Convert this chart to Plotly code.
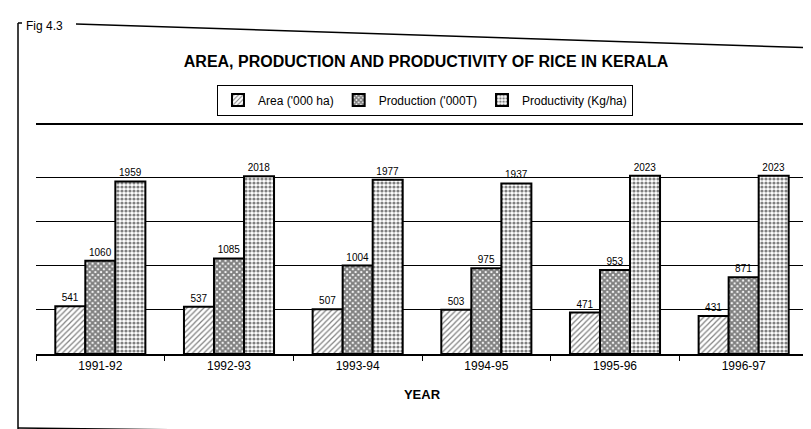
import plotly.graph_objects as go

years = ["1991-92", "1992-93", "1993-94", "1994-95", "1995-96", "1996-97"]
area = [541, 537, 507, 503, 471, 431]
production = [1060, 1085, 1004, 975, 953, 871]
productivity = [1959, 2018, 1977, 1937, 2023, 2023]
grid_values = [500, 1000, 1500, 2000]

series_names = ["Area ('000 ha)", "Production ('000T)", "Productivity (Kg/ha)"]

FONT = "Liberation Sans Narrow, Arial Narrow, Liberation Sans, Arial, sans-serif"

# pixel layout helpers
L, R, T, B = 28, 11, 117, 83
W = 811 - L - R
H = 429 - T - B


def px(x):
    return (x - L) / W


def py(y):
    return (429 - B - y) / H


fig = go.Figure()

styles = [
    dict(shape="/", size=4, solidity=0.3),
    dict(shape="x", size=4, solidity=0.75),
    dict(shape=".", size=4, solidity=0.5),
]

for name, vals, st in zip(series_names, [area, production, productivity], styles):
    fig.add_trace(go.Bar(
        name=name, x=years, y=vals,
        text=[str(v) for v in vals], textposition="outside",
        textfont=dict(family=FONT, size=10, color="black"),
        cliponaxis=False,
        marker=dict(color="white",
                    line=dict(color="black", width=2),
                    pattern=dict(fgcolor="black", bgcolor="white", **st)),
    ))

shapes = [
    # left frame
    dict(type="line", xref="paper", yref="paper", x0=px(10), x1=px(10), y0=py(15), y1=py(421),
         line=dict(color="black", width=1.5)),
    # bracket top
    dict(type="line", xref="paper", yref="paper", x0=px(10), x1=px(14), y0=py(15), y1=py(15),
         line=dict(color="black", width=1.5)),
    # top frame (slightly skewed as in scan)
    dict(type="line", xref="paper", yref="paper", x0=px(68), x1=px(811), y0=py(16), y1=py(40),
         line=dict(color="black", width=1.5)),
    # bottom frame partial
    dict(type="line", xref="paper", yref="paper", x0=px(10), x1=px(270), y0=py(420), y1=py(423),
         line=dict(color="black", width=1.5)),
]

fig.update_layout(
    width=811, height=429,
    margin=dict(l=L, r=R, t=T, b=B),
    paper_bgcolor="white", plot_bgcolor="white",
    font=dict(family=FONT, color="black"),
    barmode="group", bargap=0.3, bargroupgap=0,
    title=dict(text="<b>AREA, PRODUCTION AND PRODUCTIVITY OF RICE IN KERALA</b>",
               x=418 / 811, xanchor="center", y=1 - 53 / 429, yanchor="middle",
               font=dict(family=FONT, size=16, color="black")),
    legend=dict(orientation="h", x=px(417), xanchor="center", y=py(92), yanchor="middle",
                bordercolor="black", borderwidth=1, bgcolor="white",
                font=dict(family=FONT, size=12, color="black"),
                itemwidth=30, tracegroupgap=0),
    xaxis=dict(type="category", showline=True, linecolor="black", linewidth=1.5,
               mirror=True,
               ticks="outside", tickson="boundaries", ticklen=5, tickcolor="black",
               tickfont=dict(family=FONT, size=12, color="black"),
               title=dict(text="<b>YEAR</b>", standoff=18,
                          font=dict(family=FONT, size=13, color="black"))),
    yaxis=dict(range=[0, 2600], tickmode="array", tickvals=grid_values,
               showticklabels=False, ticks="",
               showgrid=True, gridcolor="black", gridwidth=1, zeroline=False,
               showline=False),
    shapes=shapes,
    annotations=[dict(text="Fig 4.3", xref="paper", yref="paper", x=px(16), y=py(18),
                      xanchor="left", yanchor="middle", showarrow=False,
                      font=dict(family=FONT, size=12, color="black"))],
)

fig.write_html("out.html")
